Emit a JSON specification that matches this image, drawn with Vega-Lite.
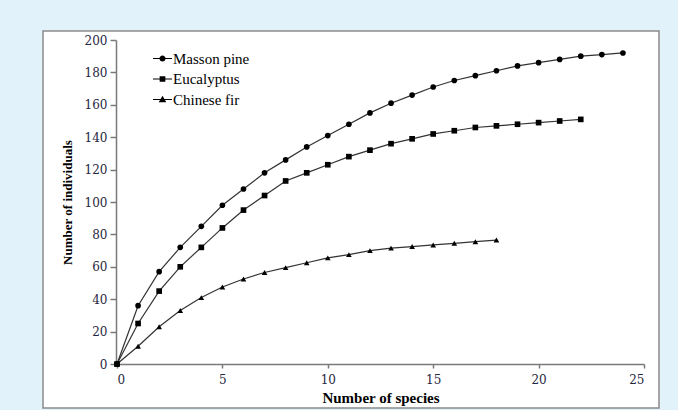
{
  "$schema": "https://vega.github.io/schema/vega-lite/v6.json",
  "width": 616,
  "height": 377,
  "autosize": {"type": "none"},
  "padding": {"left": 43, "top": 31, "right": 19, "bottom": 2},
  "background": "#e1f2fb",
  "config": {
    "view": {"fill": "white", "stroke": "#8a8a8a", "strokeWidth": 1.5},
    "axis": {
      "grid": false,
      "domainColor": "#7a7a7a",
      "domainWidth": 1.5,
      "tickColor": "#7a7a7a",
      "tickWidth": 1.5,
      "labelFont": "DejaVu Serif",
      "labelFontSize": 12,
      "labelColor": "#1f2640",
      "titleFont": "Liberation Serif",
      "titleFontWeight": "bold",
      "titleColor": "black"
    },
    "legend": {"symbolFillColor": "black", "symbolStrokeColor": "black", "symbolStrokeWidth": 1}
  },
  "data": {
    "values": [
      {"species": 0, "n": 0, "forest": "Masson pine"},
      {"species": 1, "n": 36, "forest": "Masson pine"},
      {"species": 2, "n": 57, "forest": "Masson pine"},
      {"species": 3, "n": 72, "forest": "Masson pine"},
      {"species": 4, "n": 85, "forest": "Masson pine"},
      {"species": 5, "n": 98, "forest": "Masson pine"},
      {"species": 6, "n": 108, "forest": "Masson pine"},
      {"species": 7, "n": 118, "forest": "Masson pine"},
      {"species": 8, "n": 126, "forest": "Masson pine"},
      {"species": 9, "n": 134, "forest": "Masson pine"},
      {"species": 10, "n": 141, "forest": "Masson pine"},
      {"species": 11, "n": 148, "forest": "Masson pine"},
      {"species": 12, "n": 155, "forest": "Masson pine"},
      {"species": 13, "n": 161, "forest": "Masson pine"},
      {"species": 14, "n": 166, "forest": "Masson pine"},
      {"species": 15, "n": 171, "forest": "Masson pine"},
      {"species": 16, "n": 175, "forest": "Masson pine"},
      {"species": 17, "n": 178, "forest": "Masson pine"},
      {"species": 18, "n": 181, "forest": "Masson pine"},
      {"species": 19, "n": 184, "forest": "Masson pine"},
      {"species": 20, "n": 186, "forest": "Masson pine"},
      {"species": 21, "n": 188, "forest": "Masson pine"},
      {"species": 22, "n": 190, "forest": "Masson pine"},
      {"species": 23, "n": 191, "forest": "Masson pine"},
      {"species": 24, "n": 192, "forest": "Masson pine"},
      {"species": 0, "n": 0, "forest": "Eucalyptus"},
      {"species": 1, "n": 25, "forest": "Eucalyptus"},
      {"species": 2, "n": 45, "forest": "Eucalyptus"},
      {"species": 3, "n": 60, "forest": "Eucalyptus"},
      {"species": 4, "n": 72, "forest": "Eucalyptus"},
      {"species": 5, "n": 84, "forest": "Eucalyptus"},
      {"species": 6, "n": 95, "forest": "Eucalyptus"},
      {"species": 7, "n": 104, "forest": "Eucalyptus"},
      {"species": 8, "n": 113, "forest": "Eucalyptus"},
      {"species": 9, "n": 118, "forest": "Eucalyptus"},
      {"species": 10, "n": 123, "forest": "Eucalyptus"},
      {"species": 11, "n": 128, "forest": "Eucalyptus"},
      {"species": 12, "n": 132, "forest": "Eucalyptus"},
      {"species": 13, "n": 136, "forest": "Eucalyptus"},
      {"species": 14, "n": 139, "forest": "Eucalyptus"},
      {"species": 15, "n": 142, "forest": "Eucalyptus"},
      {"species": 16, "n": 144, "forest": "Eucalyptus"},
      {"species": 17, "n": 146, "forest": "Eucalyptus"},
      {"species": 18, "n": 147, "forest": "Eucalyptus"},
      {"species": 19, "n": 148, "forest": "Eucalyptus"},
      {"species": 20, "n": 149, "forest": "Eucalyptus"},
      {"species": 21, "n": 150, "forest": "Eucalyptus"},
      {"species": 22, "n": 151, "forest": "Eucalyptus"},
      {"species": 0, "n": 0, "forest": "Chinese fir"},
      {"species": 1, "n": 11, "forest": "Chinese fir"},
      {"species": 2, "n": 23, "forest": "Chinese fir"},
      {"species": 3, "n": 33, "forest": "Chinese fir"},
      {"species": 4, "n": 41, "forest": "Chinese fir"},
      {"species": 5, "n": 47.5, "forest": "Chinese fir"},
      {"species": 6, "n": 52.5, "forest": "Chinese fir"},
      {"species": 7, "n": 56.5, "forest": "Chinese fir"},
      {"species": 8, "n": 59.5, "forest": "Chinese fir"},
      {"species": 9, "n": 62.5, "forest": "Chinese fir"},
      {"species": 10, "n": 65.5, "forest": "Chinese fir"},
      {"species": 11, "n": 67.5, "forest": "Chinese fir"},
      {"species": 12, "n": 70, "forest": "Chinese fir"},
      {"species": 13, "n": 71.5, "forest": "Chinese fir"},
      {"species": 14, "n": 72.5, "forest": "Chinese fir"},
      {"species": 15, "n": 73.5, "forest": "Chinese fir"},
      {"species": 16, "n": 74.5, "forest": "Chinese fir"},
      {"species": 17, "n": 75.5, "forest": "Chinese fir"},
      {"species": 18, "n": 76.5, "forest": "Chinese fir"}
    ]
  },
  "encoding": {
    "x": {
      "field": "species",
      "type": "quantitative",
      "scale": {"domain": [0, 25], "range": [74, 601], "nice": false},
      "axis": {
        "title": "Number of species",
        "titleFontSize": 15,
        "values": [0, 5, 10, 15, 20, 25],
        "offset": -44,
        "tickSize": 4,
        "labelPadding": 6,
        "titlePadding": 5
      }
    },
    "y": {
      "field": "n",
      "type": "quantitative",
      "scale": {"domain": [0, 200], "range": [333, 9], "nice": false},
      "axis": {
        "title": "Number of individuals",
        "titleFontSize": 13,
        "values": [0, 20, 40, 60, 80, 100, 120, 140, 160, 180, 200],
        "offset": -73,
        "tickSize": 6,
        "labelPadding": 3,
        "titlePadding": 10
      }
    }
  },
  "resolve": {"scale": {"shape": "independent"}, "legend": {"shape": "independent"}},
  "layer": [
    {
      "mark": {"type": "line", "color": "#333333", "strokeWidth": 1.2},
      "encoding": {"detail": {"field": "forest", "type": "nominal"}}
    },
    {
      "mark": {"type": "point", "filled": true, "color": "black", "opacity": 1, "size": 32},
      "encoding": {
        "shape": {
          "field": "forest",
          "type": "nominal",
          "scale": {
            "domain": ["Masson pine", "Eucalyptus", "Chinese fir"],
            "range": ["circle", "square", "triangle-up"]
          },
          "legend": null
        }
      }
    },
    {
      "transform": [{"filter": "false"}],
      "mark": {"type": "point", "filled": true, "color": "black", "opacity": 1},
      "encoding": {
        "shape": {
          "field": "forest",
          "type": "nominal",
          "scale": {
            "domain": ["Masson pine", "Eucalyptus", "Chinese fir"],
            "range": [
              "M-1,-0.065H1V0.065H-1ZM0.32,0A0.32,0.32,0,1,1,-0.32,0A0.32,0.32,0,1,1,0.32,0Z",
              "M-1,-0.065H1V0.065H-1ZM-0.3,-0.3H0.3V0.3H-0.3Z",
              "M-1,-0.065H1V0.065H-1ZM0,-0.4L0.4,0.3H-0.4Z"
            ]
          },
          "legend": {
            "title": null,
            "orient": "none",
            "legendX": 110,
            "legendY": 18,
            "padding": 0,
            "symbolSize": 361,
            "rowPadding": 2.5,
            "labelOffset": 1,
            "labelFont": "Liberation Serif",
            "labelFontSize": 15,
            "labelColor": "black",
            "symbolFillColor": "black",
            "symbolStrokeColor": "black",
            "symbolStrokeWidth": 0
          }
        }
      }
    }
  ]
}
